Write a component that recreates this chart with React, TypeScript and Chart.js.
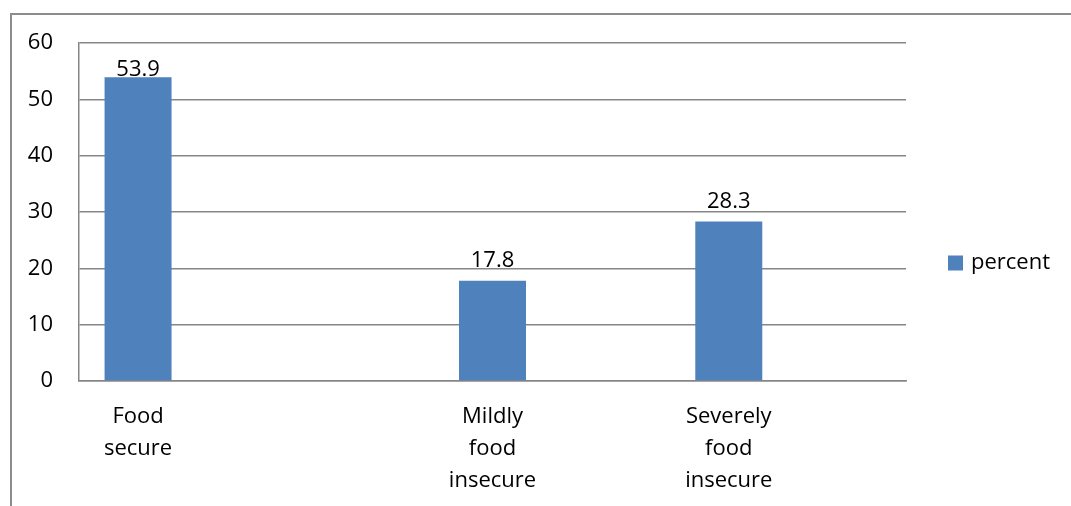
import React, { useEffect, useRef } from "react";
import { Chart, registerables } from "chart.js";

Chart.register(...registerables);

const categories: (string | string[])[] = [
  ["Food", "secure"],
  "",
  "",
  ["Mildly", "food", "insecure"],
  "",
  ["Severely", "food", "insecure"],
  "",
];
const percentValues: (number | null)[] = [53.9, null, null, 17.8, null, 28.3, null];
const seriesLabel = "percent";
const yTicks = [0, 10, 20, 30, 40, 50, 60];

const FONT = "'Open Sans', Lato, sans-serif";
const FS = 22;
const BAR = "#4F81BD";
const GRID = "#868686";

const valueLabels = {
  id: "valueLabels",
  afterDatasetsDraw(chart: any) {
    const ctx = chart.ctx;
    const meta = chart.getDatasetMeta(0);
    const area = chart.chartArea;
    ctx.save();
    ctx.font = `${FS}px ${FONT}`;
    ctx.fillStyle = "#000";
    ctx.textAlign = "center";
    ctx.textBaseline = "alphabetic";
    meta.data.forEach((el: any, i: number) => {
      const v = chart.data.datasets[0].data[i];
      if (v == null) return;
      const y = Math.max(el.y - 14, area.top + 33);
      ctx.fillText(String(v), el.x, y);
    });
    ctx.restore();
  },
};

const customLegend = {
  id: "customLegend",
  afterDraw(chart: any) {
    const ctx = chart.ctx;
    const ds = chart.data.datasets[0];
    const cx = chart.chartArea.right + 42;
    const cy = chart.height / 2;
    ctx.save();
    ctx.fillStyle = ds.backgroundColor;
    ctx.fillRect(cx, cy - 7.5, 15, 15);
    ctx.font = `${FS}px ${FONT}`;
    ctx.fillStyle = "#000";
    ctx.textAlign = "left";
    ctx.textBaseline = "middle";
    ctx.fillText(ds.label, cx + 23, cy);
    ctx.restore();
  },
};

export default function App() {
  const ref = useRef<HTMLCanvasElement | null>(null);
  useEffect(() => {
    if (!ref.current) return;
    const chart = new Chart(ref.current, {
      type: "bar",
      data: {
        labels: categories,
        datasets: [
          {
            label: seriesLabel,
            data: percentValues,
            backgroundColor: BAR,
            barPercentage: 1,
            categoryPercentage: 0.567,
          },
        ],
      },
      options: {
        animation: false,
        responsive: false,
        maintainAspectRatio: false,
        layout: { padding: { top: 30, right: 165, bottom: 0, left: 0 } },
        plugins: {
          legend: { display: false },
          tooltip: { enabled: false },
        },
        scales: {
          x: {
            grid: { display: false, drawTicks: false },
            border: { display: true, color: GRID, width: 1.5 },
            ticks: {
              autoSkip: false,
              maxRotation: 0,
              padding: 20,
              color: "#000",
              font: { family: FONT, size: FS, lineHeight: 1.45 },
            },
            afterFit: (s: any) => {
              s.height = 132;
              s.paddingLeft = 0;
              s.paddingRight = 0;
            },
          },
          y: {
            min: 0,
            max: 60,
            afterBuildTicks: (s: any) => {
              s.ticks = yTicks.map((v) => ({ value: v }));
            },
            grid: { color: GRID, lineWidth: 1.5, drawTicks: false },
            border: { display: true, color: GRID, width: 1.5 },
            ticks: {
              padding: 26,
              color: "#000",
              font: { family: FONT, size: FS },
            },
            afterFit: (s: any) => {
              s.width = 69;
              s.paddingTop = 0;
              s.paddingBottom = 0;
            },
          },
        },
      },
      plugins: [valueLabels, customLegend],
    });
    return () => chart.destroy();
  }, []);

  return (
    <div
      style={{
        position: "fixed",
        left: 0,
        top: 0,
        width: 1071,
        height: 506,
        overflow: "hidden",
        background: "#fff",
      }}
    >
      <div
        style={{
          position: "absolute",
          left: 10,
          top: 13,
          width: 1100,
          height: 520,
          borderLeft: "2px solid #8c8c8c",
          borderTop: "2px solid #8c8c8c",
          boxSizing: "border-box",
        }}
      />
      <canvas
        ref={ref}
        width={1061}
        height={500}
        style={{ position: "absolute", left: 10, top: 13, width: 1061, height: 500 }}
      />
    </div>
  );
}
